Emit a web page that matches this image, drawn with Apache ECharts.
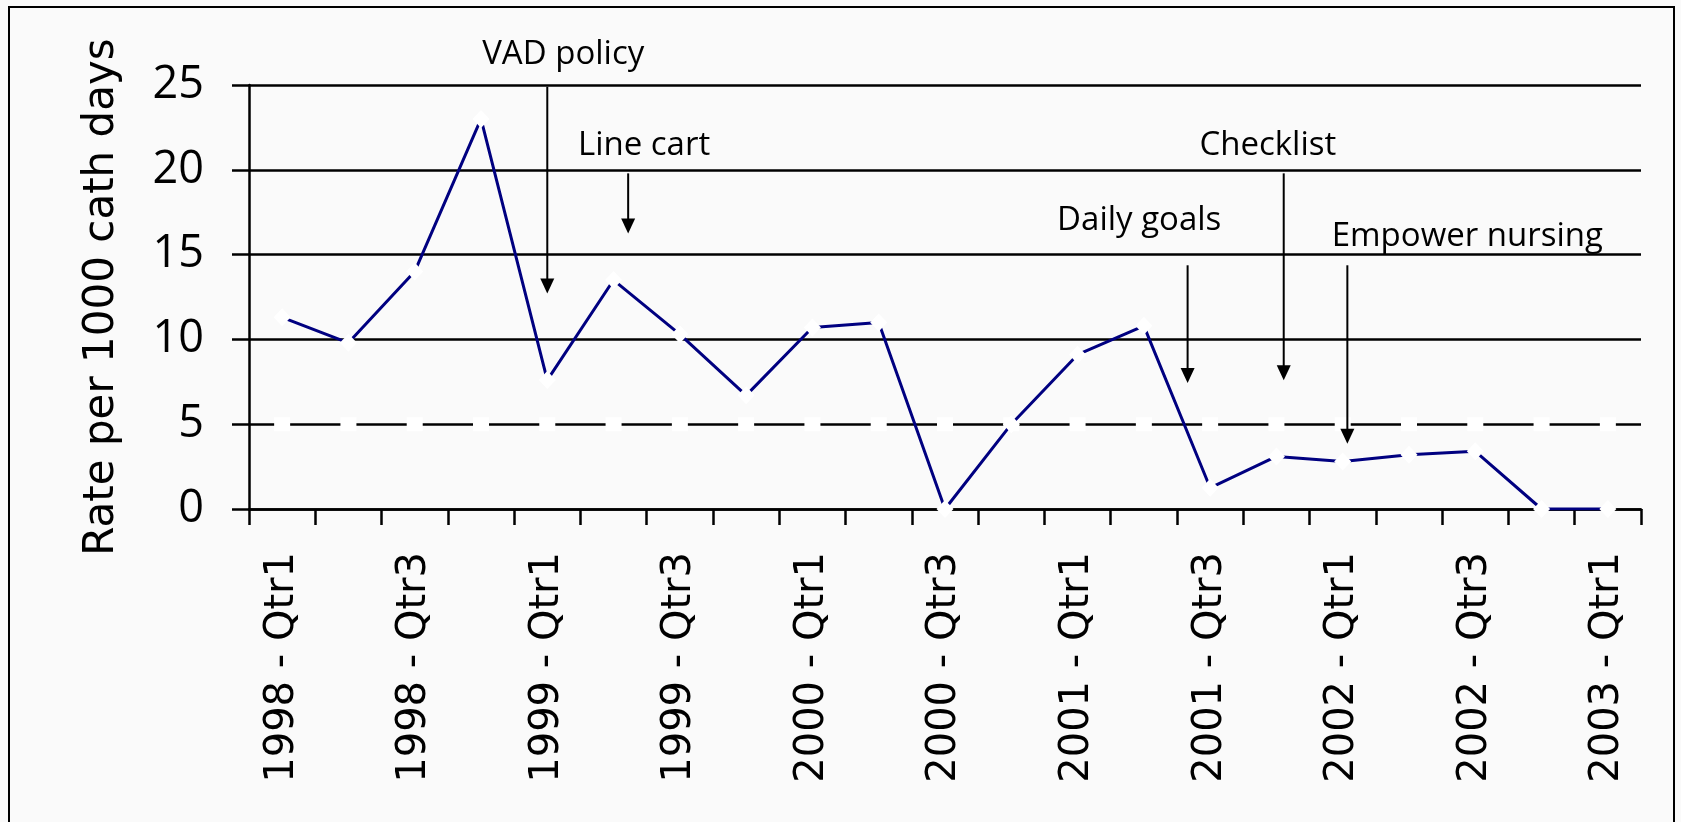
<!DOCTYPE html>
<html><head><meta charset="utf-8">
<script src="https://cdn.jsdelivr.net/npm/echarts@6/dist/echarts.min.js"></script>
<style>html,body{margin:0;padding:0;background:#fafafa}#c{width:1681px;height:822px}</style>
</head><body><div id="c"></div>
<script>
const categories = [
  '1998 - Qtr1','1998 - Qtr2','1998 - Qtr3','1998 - Qtr4',
  '1999 - Qtr1','1999 - Qtr2','1999 - Qtr3','1999 - Qtr4',
  '2000 - Qtr1','2000 - Qtr2','2000 - Qtr3','2000 - Qtr4',
  '2001 - Qtr1','2001 - Qtr2','2001 - Qtr3','2001 - Qtr4',
  '2002 - Qtr1','2002 - Qtr2','2002 - Qtr3','2002 - Qtr4',
  '2003 - Qtr1'
];
const rates = [11.3, 9.8, 14.0, 23.0, 7.6, 13.5, 10.3, 6.7, 10.7, 11.0, 0, 5.0, 9.1, 10.8, 1.25, 3.1, 2.8, 3.2, 3.4, 0, 0];
const target = [5,5,5,5,5,5,5,5,5,5,5,5,5,5,5,5,5,5,5,5,5];
const yTicks = {min: 0, max: 25, interval: 5};

// annotations (x in category index units, y in rate units)
const annotLabels = ['VAD policy', 'Line cart', 'Daily goals', 'Checklist', 'Empower nursing'];
const annotX      = [4.0, 5.22, 13.66, 15.11, 16.07];
const annotTop    = [24.9, 19.79, 14.37, 19.79, 14.37];
const annotTip    = [12.70, 16.25, 7.43, 7.59, 3.85];
const annotLabelX = [4.24, 5.46, 12.93, 14.87, 17.88];
const annotLabelY = [26.77, 21.44, 16.98, 21.41, 16.09];

const annotData = annotX.map((x, i) => [x, annotTop[i], annotTip[i], annotLabelX[i], annotLabelY[i]]);

const chart = echarts.init(document.getElementById('c'), null, {renderer: 'canvas'});
chart.setOption({
  animation: false,
  backgroundColor: '#fafafa',
  graphic: [{
    type: 'rect', z: -1,
    shape: {x: 9, y: 7, width: 1665, height: 900},
    style: {fill: null, stroke: '#000', lineWidth: 2}
  }],
  grid: {left: 249, right: 40, top: 85, bottom: 313, containLabel: false},
  xAxis: [{
    type: 'category',
    data: categories,
    boundaryGap: true,
    axisLine: {show: true, onZero: false, lineStyle: {color: '#000', width: 2.5}},
    axisTick: {show: true, interval: 0, length: 16, lineStyle: {color: '#000', width: 2.5}},
    axisLabel: {interval: 1, rotate: 90, margin: 43, color: '#000', fontFamily: 'DejaVu Sans', fontSize: 40},
    splitLine: {show: false}
  }, {
    type: 'value', min: -0.5, max: 20.5, show: false,
    axisLine: {onZero: false}
  }],
  yAxis: [{
    type: 'value',
    min: yTicks.min, max: yTicks.max, interval: yTicks.interval,
    name: 'Rate per 1000 cath days',
    nameLocation: 'middle',
    nameRotate: 90,
    nameGap: 126,
    nameTextStyle: {color: '#000', fontFamily: 'DejaVu Sans', fontSize: 42},
    axisLine: {show: true, onZero: false, lineStyle: {color: '#000', width: 2.5}},
    axisTick: {show: true, length: 17, lineStyle: {color: '#000', width: 2.5}},
    axisLabel: {margin: 45, color: '#000', fontFamily: 'Open Sans', fontSize: 45},
    splitLine: {show: true, lineStyle: {color: '#000', width: 2.5}}
  }],
  series: [{
    name: 'Target',
    type: 'line',
    data: target,
    xAxisIndex: 0, yAxisIndex: 0,
    symbol: 'rect', symbolSize: [16, 14],
    showAllSymbol: true,
    lineStyle: {width: 0, opacity: 0},
    itemStyle: {color: '#ffffff', borderWidth: 0},
    z: 3, silent: true
  }, {
    name: 'Rate',
    type: 'line',
    data: rates,
    xAxisIndex: 0, yAxisIndex: 0,
    symbol: 'diamond', symbolSize: [17, 18],
    showAllSymbol: true,
    lineStyle: {color: '#000080', width: 3},
    itemStyle: {color: '#ffffff', borderWidth: 0},
    z: 4, silent: true
  }, {
    name: 'Annotations',
    type: 'custom',
    xAxisIndex: 1, yAxisIndex: 0,
    data: annotData,
    clip: false, silent: true, z: 5,
    renderItem: function (params, api) {
      const p1 = api.coord([api.value(0), api.value(1)]);
      const p2 = api.coord([api.value(0), api.value(2)]);
      const t = api.coord([api.value(3), api.value(4)]);
      const ah = 15, aw = 7;
      return {
        type: 'group',
        children: [
          {type: 'line', shape: {x1: p1[0], y1: p1[1], x2: p2[0], y2: p2[1] - ah + 1},
            style: {stroke: '#000', lineWidth: 2}},
          {type: 'polygon', shape: {points: [[p2[0] - aw, p2[1] - ah], [p2[0] + aw, p2[1] - ah], [p2[0], p2[1]]]},
            style: {fill: '#000'}},
          {type: 'text', x: t[0], y: t[1],
            style: {text: annotLabels[params.dataIndex], fontFamily: 'Open Sans', fontSize: 33,
              fill: '#000', align: 'center', verticalAlign: 'middle'}}
        ]
      };
    }
  }]
});
</script></body></html>
